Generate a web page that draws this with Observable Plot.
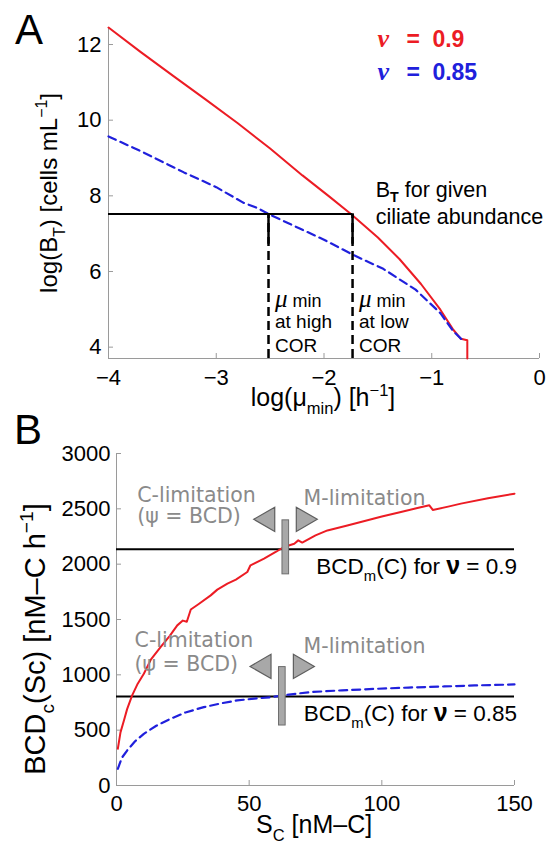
<!DOCTYPE html>
<html><head><meta charset="utf-8">
<script src="https://cdn.jsdelivr.net/npm/d3@7"></script>
<script src="https://cdn.jsdelivr.net/npm/@observablehq/plot@0.6"></script>
<style>
body{margin:0;background:#fff;}
#chart{width:553px;height:843px;overflow:hidden;background:#fff;}
#chart svg{display:block;}
</style></head><body><div id="chart"></div>
<script>
// ---------- Panel A data ----------
const muRed = [-4, -3.7, -3.4, -3.1, -2.8, -2.5, -2.2, -1.95, -1.75, -1.5, -1.3, -1.1, -0.92, -0.8, -0.73, -0.67, -0.67];
const btRed = [12.45, 11.8, 11.17, 10.55, 9.92, 9.25, 8.54, 7.98, 7.52, 6.9, 6.33, 5.67, 4.99, 4.46, 4.22, 4.18, 3.70];
const muBlue = [-4, -3.7, -3.3, -3.0, -2.75, -2.62, -2.5, -2.22, -2.0, -1.73, -1.45, -1.15, -0.92, -0.8, -0.72];
const btBlue = [9.57, 9.18, 8.62, 8.23, 7.82, 7.68, 7.50, 7.13, 6.84, 6.44, 6.07, 5.52, 4.90, 4.42, 4.20];
const btGiven = 7.52;          // B_T for given ciliate abundance
const muHigh = -2.515;         // mu_min at high COR
const muLow = -1.735;          // mu_min at low COR
const xTicksA = [-4, -3, -2, -1, 0];
const yTicksA = [4, 6, 8, 10, 12];
const xDomA = [-4, 0];
const yDomA = [3.70, 12.45];

// ---------- Panel B data ----------
const scRed = [0.5, 1.5, 2.8, 4, 5.9, 8, 10.3, 13, 16.6, 20, 22.9, 25, 26.5, 28, 31, 35.5, 38, 41.8, 45, 49.3, 50.5, 55.6, 60, 63.1, 67, 68.5, 70, 75, 79.5, 87, 94.6, 100, 107.2, 113, 117.9, 119.2, 125, 129.8, 140, 150];
const bcdRed = [332, 480, 588, 690, 814, 920, 1010, 1140, 1250, 1350, 1447, 1490, 1480, 1590, 1640, 1718, 1770, 1824, 1860, 1929, 1990, 2050, 2110, 2155, 2185, 2215, 2195, 2260, 2305, 2350, 2396, 2430, 2471, 2505, 2532, 2490, 2520, 2547, 2595, 2637];
const scBlue = [0.5, 2, 4, 7, 10.3, 15, 20.4, 26, 32.9, 40, 45.5, 52, 58.1, 65, 73.2, 85, 98.4, 110, 123.5, 135, 150];
const bcdBlue = [151, 250, 316, 400, 467, 540, 603, 660, 708, 745, 769, 785, 798, 822, 844, 860, 874, 885, 895, 904, 913];
const bcdM = [2134, 805];      // BCD_m(C) for nu = 0.9, 0.85
const nuLabels = ["0.9", "0.85"];
const switchX = [63.8, 62.5];  // transition C- to M-limitation
const barLow = [1908, 542];
const barHigh = [2396, 1070];
const arrowY = [2405, 1076];
const arrowLeftX = [57.0, 55.6];
const arrowRightX = [70.4, 69.3];
const xTicksB = [0, 50, 100, 150];
const yTicksB = [0, 500, 1000, 1500, 2000, 2500, 3000];
const xDomB = [0, 150];
const yDomB = [0, 3000];

// ---------- styles ----------
const SANS = "'Liberation Sans', Arial, Helvetica, sans-serif";
const DEJ = "'DejaVu Sans', Verdana, sans-serif";
const SERIF = "'Liberation Serif', 'Times New Roman', serif";
const RED = "#ec1c24";
const BLUE = "#2020dc";
const AXIS = "#9a9a9a";
const GRAY_TXT = "#8a8a8a";
const fmt = d => String(d).replace("-", "\u2212");

const redA = muRed.map((x, i) => ({x, y: btRed[i]}));
const blueA = muBlue.map((x, i) => ({x, y: btBlue[i]}));
const redB = scRed.map((x, i) => ({x, y: bcdRed[i]}));
const blueB = scBlue.map((x, i) => ({x, y: bcdBlue[i]}));
const switches = bcdM.map((y, i) => ({y, x: switchX[i], lo: barLow[i], hi: barHigh[i], ay: arrowY[i], al: arrowLeftX[i], ar: arrowRightX[i]}));

const plotA = Plot.plot({
  width: 553, height: 420,
  marginLeft: 108, marginRight: 14, marginTop: 27, marginBottom: 62,
  x: {domain: xDomA}, y: {domain: yDomA},
  style: {fontFamily: SANS, background: "white", overflow: "visible"},
  marks: [
    Plot.ruleX([xDomA[0]], {stroke: AXIS}),
    Plot.ruleY([yDomA[0]], {stroke: AXIS}),
    Plot.axisY({ticks: yTicksA, tickSize: -5, tickPadding: 12, stroke: AXIS, fill: "black", fontSize: 22, label: null, tickFormat: fmt}),
    Plot.axisX({ticks: xTicksA, tickSize: -5, tickPadding: 16, stroke: AXIS, fill: "black", fontSize: 22, label: null, tickFormat: fmt}),
    Plot.line(redA, {x: "x", y: "y", stroke: RED, strokeWidth: 2}),
    Plot.line(blueA, {x: "x", y: "y", stroke: BLUE, strokeWidth: 2.2, strokeDasharray: "8,5"}),
    Plot.ruleY([btGiven], {x1: xDomA[0], x2: muLow, stroke: "black", strokeWidth: 2}),
    Plot.ruleX([muHigh, muLow], {y1: yDomA[0], y2: btGiven, stroke: "black", strokeWidth: 2.5, strokeDasharray: "9,5"}),
    Plot.ruleX([muHigh, muLow], {y1: btGiven - 0.8, y2: btGiven, stroke: "black", strokeWidth: 2.5})
  ]
});

const plotB = Plot.plot({
  width: 553, height: 423,
  marginLeft: 116, marginRight: 39, marginTop: 33, marginBottom: 58,
  x: {domain: xDomB}, y: {domain: yDomB},
  style: {fontFamily: SANS, background: "white", overflow: "visible"},
  marks: [
    Plot.ruleX([xDomB[0]], {stroke: AXIS}),
    Plot.ruleY([yDomB[0]], {stroke: AXIS}),
    Plot.axisY({ticks: yTicksB, tickSize: -5, tickPadding: 11, stroke: AXIS, fill: "black", fontSize: 22, label: null, tickFormat: fmt}),
    Plot.axisX({ticks: xTicksB, tickSize: -5, tickPadding: 15, stroke: AXIS, fill: "black", fontSize: 22, label: null, tickFormat: fmt}),
    Plot.ruleY(bcdM, {x1: xDomB[0], x2: xDomB[1], stroke: "black", strokeWidth: 2}),
    Plot.line(redB, {x: "x", y: "y", stroke: RED, strokeWidth: 2}),
    Plot.line(blueB, {x: "x", y: "y", stroke: BLUE, strokeWidth: 2.2, strokeDasharray: "8,5"}),
    Plot.rect(switches, {x1: d => d.x - 1.25, x2: d => d.x + 1.25, y1: "lo", y2: "hi", fill: "#a8a8a8", stroke: "#6e6e6e", strokeWidth: 1}),
    Plot.dot(switches, {x: "al", y: "ay", symbol: "triangle", rotate: -90, r: 9, fill: "#a8a8a8", stroke: "#5e5e5e", strokeWidth: 1.2}),
    Plot.dot(switches, {x: "ar", y: "ay", symbol: "triangle", rotate: 90, r: 9, fill: "#a8a8a8", stroke: "#5e5e5e", strokeWidth: 1.2})
  ]
});

// rich text helper (for subscripts / superscripts)
function rich(svg, o) {
  const txt = d3.select(svg).append("text")
    .attr("font-family", o.family || SANS).attr("font-size", o.size)
    .attr("fill", o.fill || "black").attr("text-anchor", o.anchor || "start")
    .style("white-space", "pre");
  if (o.weight) txt.attr("font-weight", o.weight);
  if (o.rotate) txt.attr("transform", `translate(${o.x},${o.y}) rotate(${o.rotate})`);
  else txt.attr("x", o.x).attr("y", o.y);
  let cur = 0;
  const subShift = o.subShift != null ? o.subShift : 0.32;
  for (const p of o.parts) {
    const s = typeof p === "string" ? {t: p} : p;
    const target = s.sub ? o.size * subShift : s.sup ? -o.size * 0.42 : 0;
    const ts = txt.append("tspan").text(s.t);
    if (target !== cur) ts.attr("dy", target - cur);
    cur = target;
    if (s.x != null) ts.attr("x", s.x);
    if (s.sub || s.sup) ts.attr("font-size", s.size || o.size * 0.66);
    else if (s.size) ts.attr("font-size", s.size);
    if (s.bold) ts.attr("font-weight", "bold");
    if (s.italic) ts.attr("font-style", "italic");
    if (s.family) ts.attr("font-family", s.family);
    if (s.fill) ts.attr("fill", s.fill);
  }
  return txt;
}

// ---- Panel A annotations ----
{
  const sx = plotA.scale("x"), sy = plotA.scale("y");
  rich(plotA, {x: 15, y: 44, size: 42, parts: ["A"]});
  rich(plotA, {x: 57, y: 193, size: 24, rotate: -90, anchor: "middle",
    parts: ["log(B", {t: "T", sub: true}, ") [cells mL", {t: "\u22121", sup: true}, "]"]});
  rich(plotA, {x: 323, y: 406, size: 25, anchor: "middle",
    parts: ["log(\u03bc", {t: "min", sub: true}, ") [h", {t: "\u22121", sup: true}, "]"]});
  // legend
  const lx = sx.apply(-1.5);
  [[nuLabels[0], RED, sy.apply(11.93)], [nuLabels[1], BLUE, sy.apply(11.05)]].forEach(([v, c, y]) => {
    rich(plotA, {x: lx, y, size: 23, weight: "bold", fill: c,
      parts: [{t: "\u03bd", family: SERIF, italic: true, size: 26}, {t: "=", x: lx + 29}, {t: v, x: lx + 55}]});
  });
  const tx = sx.apply(-1.515);
  rich(plotA, {x: tx, y: sy.apply(7.96), size: 21.5, subShift: 0.22, parts: ["B", {t: "T", sub: true, bold: true}, " for given"]});
  rich(plotA, {x: tx, y: sy.apply(7.24), size: 21.5, parts: ["ciliate abundance"]});
  [[muHigh, "at high"], [muLow, "at low"]].forEach(([m, lab]) => {
    const x = sx.apply(m) + 7;
    rich(plotA, {x, y: sy.apply(5.04), size: 19, parts: [{t: "\u03bc", family: SERIF, italic: true, size: 25}, {t: " min", size: 18}]});
    rich(plotA, {x, y: sy.apply(4.50), size: 19, parts: [lab]});
    rich(plotA, {x, y: sy.apply(3.86), size: 19, parts: ["COR"]});
  });
}

// ---- Panel B annotations ----
{
  const sx = plotB.scale("x"), sy = plotB.scale("y");
  rich(plotB, {x: 14, y: 24, size: 42, parts: ["B"]});
  rich(plotB, {x: 45, y: 219, size: 29, rotate: -90, anchor: "middle",
    parts: ["BCD", {t: "c", sub: true}, "(Sc) [nM\u2013C h", {t: "\u22121", sup: true}, "]"]});
  rich(plotB, {x: 256, y: 413, size: 25,
    parts: ["S", {t: "C", sub: true}, " [nM\u2013C]"]});
  const cl = [[2560, 2365, 2530, "0.9", 8], [1250, 1030, 1195, "0.85", 7]];
  cl.forEach(([yc, yp, ym, nu, xc], i) => {
    rich(plotB, {x: sx.apply(xc), y: sy.apply(yc), size: 20.5, family: DEJ, fill: GRAY_TXT, parts: ["C-limitation"]});
    rich(plotB, {x: sx.apply(xc), y: sy.apply(yp), size: 20.5, family: DEJ, fill: GRAY_TXT, parts: ["(\u03c8 = BCD)"]});
    rich(plotB, {x: sx.apply(70.7), y: sy.apply(ym), size: 20.5, family: DEJ, fill: GRAY_TXT, parts: ["M-limitation"]});
    rich(plotB, {x: sx.apply(xDomB[1]) + 3, y: sy.apply(bcdM[i]) + 25, size: 22.5, anchor: "end",
      parts: ["BCD", {t: "m", sub: true}, "(C) for ", {t: "\u03bd", bold: true, size: 25}, " = " + nuLabels[i]]});
  });
}

const chart = document.getElementById("chart");
chart.appendChild(plotA);
chart.appendChild(plotB);
</script></body></html>
